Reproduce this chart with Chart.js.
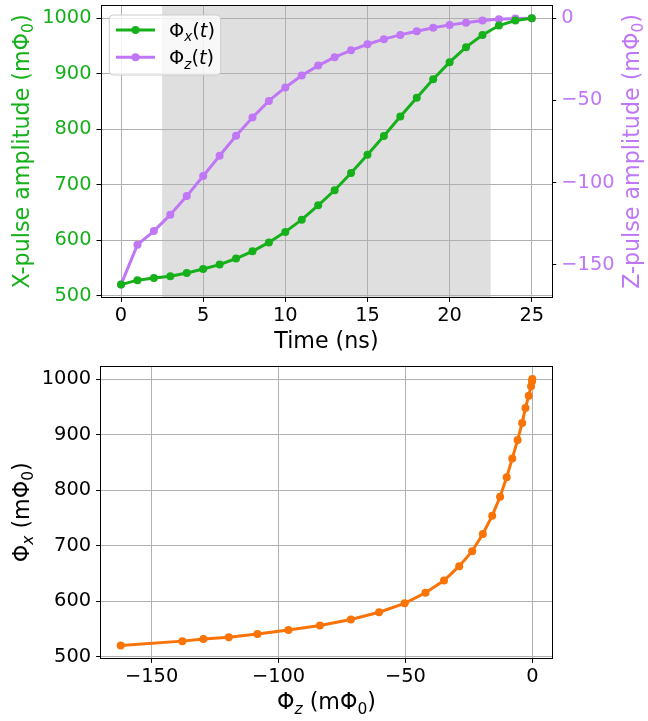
<!DOCTYPE html>
<html><head><meta charset="utf-8">
<script src="https://cdn.jsdelivr.net/npm/chart.js@4.4.0/dist/chart.umd.min.js"></script>
<style>
html,body{margin:0;padding:0;background:#fff;}
#c1{position:absolute;left:0;top:0;}
#c2{position:absolute;left:0;top:355px;}
</style></head><body>
<canvas id="c1" width="648" height="355" style="width:648px;height:355px"></canvas>
<canvas id="c2" width="648" height="366" style="width:648px;height:366px"></canvas>
<script>
// ---- data ----
const timeNs = [0,1,2,3,4,5,6,7,8,9,10,11,12,13,14,15,16,17,18,19,20,21,22,23,24,25];
const phiX = [520,528,532,535,541,548,556,567,580,596,615,637,663,690,721,754,788,823,857,890,921,948,970,987,996,1000];
const phiZ = [-162.2,-137.9,-129.6,-119.6,-108.3,-96.1,-83.7,-71.5,-60.4,-50.3,-42.1,-34.8,-28.8,-23.7,-19.5,-15.8,-12.7,-10.1,-7.9,-5.8,-4.0,-2.7,-1.4,-0.5,-0.1,0];
const shadeSpan = [2.5, 22.5];
const timeTicks = [0,5,10,15,20,25];
const xAmpTicks = [500,600,700,800,900,1000];
const zAmpTicks = [-150,-100,-50,0];
const zAmpTicksTop = [-150,-100,-50,0];
const legendLabels = [
  [{t:'Φ'},{t:'x',sub:1,it:1},{t:'('},{t:'t',it:1},{t:')'}],
  [{t:'Φ'},{t:'z',sub:1,it:1},{t:'('},{t:'t',it:1},{t:')'}]
];
const titleTime = [{t:'Time (ns)'}];
const titleXAmp = [{t:'X-pulse amplitude (mΦ'},{t:'0',sub:1},{t:')'}];
const titleZAmp = [{t:'Z-pulse amplitude (mΦ'},{t:'0',sub:1},{t:')'}];
const titlePhiZ = [{t:'Φ'},{t:'z',sub:1,it:1},{t:' (mΦ'},{t:'0',sub:1},{t:')'}];
const titlePhiX = [{t:'Φ'},{t:'x',sub:1,it:1},{t:' (mΦ'},{t:'0',sub:1},{t:')'}];

const GREEN = '#15b01a', PURPLE = '#bf77f6', ORANGE = '#f97306';
const FONT = 'DejaVu Sans';
const TICK = 19.4, LABEL = 22.2;
Chart.defaults.font.family = FONT;

function autoRange(arr){ const mn=Math.min(...arr), mx=Math.max(...arr), r=mx-mn; return [mn-0.05*r, mx+0.05*r]; }
const tR = autoRange(timeNs), xR = autoRange(phiX), zR = autoRange(phiZ);
const fmt = v => String(v).replace('-', '\u2212');

function drawRich(ctx, segs, x, y, size, color, rot, align){
  ctx.save();
  ctx.translate(x, y); ctx.rotate(rot);
  ctx.fillStyle = color; ctx.textBaseline = 'alphabetic'; ctx.textAlign = 'left';
  let total = 0;
  const parts = segs.map(s => {
    const fs = s.sub ? size*0.7 : size;
    const font = (s.it ? 'italic ' : '') + fs + 'px "' + FONT + '"';
    ctx.font = font;
    const w = ctx.measureText(s.t).width;
    total += w;
    return {s, font, w, dy: s.sub ? size*0.22 : 0};
  });
  let cx = align === 'center' ? -total/2 : (align === 'right' ? -total : 0);
  for (const p of parts){ ctx.font = p.font; ctx.fillText(p.s.t, cx, p.dy); cx += p.w; }
  ctx.restore();
}
function fixW(w){ return s => { s.width = w; s.paddingTop = 0; s.paddingBottom = 0; }; }
function fixH(h){ return s => { s.height = h; s.paddingLeft = 0; s.paddingRight = 0; }; }
function setTicks(arr){ return s => { s.ticks = arr.map(v => ({value:v})); }; }
function frame(chart){
  const a = chart.chartArea, ctx = chart.ctx;
  ctx.save(); ctx.strokeStyle = '#000'; ctx.lineWidth = 1;
  ctx.strokeRect(Math.round(a.left)+0.5, Math.round(a.top)+0.5, Math.round(a.right-a.left)-1, Math.round(a.bottom-a.top)-1);
  ctx.restore();
}
const gridBase = {color:'#b0b0b0', lineWidth:1, tickColor:'#000', tickLength:4, tickWidth:1};

// ---- top chart ----
const H1 = 355;
new Chart(document.getElementById('c1'), {
  type:'line',
  data:{datasets:[
    {data: timeNs.map((t,i)=>({x:t,y:phiX[i]})), yAxisID:'y', borderColor:GREEN, backgroundColor:GREEN, pointBackgroundColor:GREEN, borderWidth:3, pointRadius:4, pointBorderWidth:0, tension:0},
    {data: timeNs.map((t,i)=>({x:t,y:phiZ[i]})), yAxisID:'y2', borderColor:PURPLE, backgroundColor:PURPLE, pointBackgroundColor:PURPLE, borderWidth:3, pointRadius:4, pointBorderWidth:0, tension:0}
  ]},
  options:{
    responsive:false, animation:false, devicePixelRatio:1,
    events:[],
    layout:{padding:{top:5,left:0,right:0,bottom:0}},
    plugins:{legend:{display:false}, tooltip:{enabled:false}},
    scales:{
      x:{type:'linear', min:tR[0], max:tR[1], afterBuildTicks:setTicks(timeTicks), afterFit:fixH(H1-297.9-5+5),
         grid:gridBase, border:{display:false},
         ticks:{font:{size:TICK}, color:'#000', padding:2, callback:fmt, maxRotation:0, autoSkip:false}},
      y:{type:'linear', position:'left', min:xR[0], max:xR[1], afterBuildTicks:setTicks(xAmpTicks), afterFit:fixW(100.5),
         grid:gridBase, border:{display:false},
         ticks:{font:{size:TICK}, color:GREEN, padding:5, callback:fmt, autoSkip:false}},
      y2:{type:'linear', position:'right', min:zR[0], max:zR[1], afterBuildTicks:setTicks(zAmpTicksTop), afterFit:fixW(648-552.3),
         grid:Object.assign({}, gridBase, {drawOnChartArea:false}), border:{display:false},
         ticks:{font:{size:TICK}, color:PURPLE, padding:5, callback:fmt, autoSkip:false}}
    }
  },
  plugins:[{
    id:'deco1',
    beforeDraw(chart){
      const a = chart.chartArea, xs = chart.scales.x, ctx = chart.ctx;
      const x0 = xs.getPixelForValue(shadeSpan[0]), x1 = xs.getPixelForValue(shadeSpan[1]);
      ctx.save(); ctx.fillStyle = 'rgba(128,128,128,0.25)';
      ctx.fillRect(x0, a.top, x1-x0, a.bottom-a.top); ctx.restore();
    },
    afterDraw(chart){
      const a = chart.chartArea, ctx = chart.ctx;
      frame(chart);
      drawRich(ctx, titleTime, (a.left+a.right)/2, 348, LABEL, '#000', 0, 'center');
      drawRich(ctx, titleXAmp, 28.5, (a.top+a.bottom)/2, LABEL, GREEN, -Math.PI/2, 'center');
      drawRich(ctx, titleZAmp, 638.6, (a.top+a.bottom)/2, LABEL, PURPLE, -Math.PI/2, 'center');
      // legend
      const bx=109.3, by=15, bw=111.4, bh=60, r=4;
      ctx.save();
      ctx.beginPath();
      ctx.moveTo(bx+r,by); ctx.lineTo(bx+bw-r,by); ctx.quadraticCurveTo(bx+bw,by,bx+bw,by+r);
      ctx.lineTo(bx+bw,by+bh-r); ctx.quadraticCurveTo(bx+bw,by+bh,bx+bw-r,by+bh);
      ctx.lineTo(bx+r,by+bh); ctx.quadraticCurveTo(bx,by+bh,bx,by+bh-r);
      ctx.lineTo(bx,by+r); ctx.quadraticCurveTo(bx,by,bx+r,by); ctx.closePath();
      ctx.fillStyle='rgba(255,255,255,0.8)'; ctx.fill();
      ctx.strokeStyle='#cccccc'; ctx.lineWidth=1; ctx.stroke();
      const cols=[GREEN,PURPLE], ys=[30,57.3];
      for (let i=0;i<2;i++){
        ctx.strokeStyle=cols[i]; ctx.lineWidth=3;
        ctx.beginPath(); ctx.moveTo(116,ys[i]); ctx.lineTo(155,ys[i]); ctx.stroke();
        ctx.fillStyle=cols[i]; ctx.beginPath(); ctx.arc(135.5,ys[i],4,0,Math.PI*2); ctx.fill();
        drawRich(ctx, legendLabels[i], 169, ys[i]+7, TICK, '#000', 0, 'left');
      }
      ctx.restore();
    }
  }]
});

// ---- bottom chart ----
const H2 = 366;
new Chart(document.getElementById('c2'), {
  type:'line',
  data:{datasets:[
    {data: phiZ.map((z,i)=>({x:z,y:phiX[i]})), borderColor:ORANGE, backgroundColor:ORANGE, pointBackgroundColor:ORANGE, borderWidth:3, pointRadius:4, pointBorderWidth:0, tension:0}
  ]},
  options:{
    responsive:false, animation:false, devicePixelRatio:1,
    events:[],
    layout:{padding:{top:10.7,left:0,right:95.1,bottom:0}},
    plugins:{legend:{display:false}, tooltip:{enabled:false}},
    scales:{
      x:{type:'linear', min:zR[0], max:zR[1], afterBuildTicks:setTicks(zAmpTicks), afterFit:fixH(H2-303.9),
         grid:gridBase, border:{display:false},
         ticks:{font:{size:TICK}, color:'#000', padding:2, callback:fmt, maxRotation:0, autoSkip:false}},
      y:{type:'linear', position:'left', min:xR[0], max:xR[1], afterBuildTicks:setTicks(xAmpTicks), afterFit:fixW(100.1),
         grid:gridBase, border:{display:false},
         ticks:{font:{size:TICK}, color:'#000', padding:5, callback:fmt, autoSkip:false}}
    }
  },
  plugins:[{
    id:'deco2',
    afterDraw(chart){
      const a = chart.chartArea, ctx = chart.ctx;
      frame(chart);
      drawRich(ctx, titlePhiZ, (a.left+a.right)/2, 354, LABEL, '#000', 0, 'center');
      drawRich(ctx, titlePhiX, 28.5, (a.top+a.bottom)/2, LABEL, '#000', -Math.PI/2, 'center');
    }
  }]
});
</script>
</body></html>
